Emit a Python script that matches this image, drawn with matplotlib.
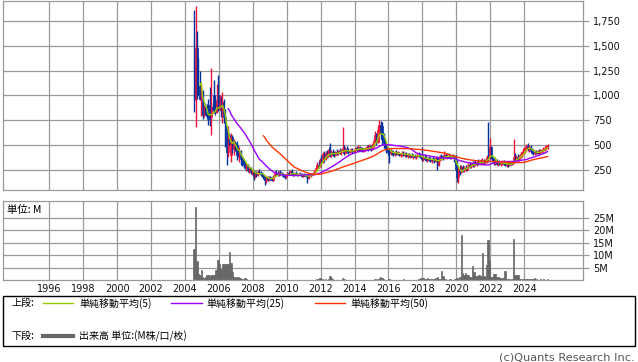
import numpy as np
import pandas as pd
import matplotlib
matplotlib.use("Agg")
import matplotlib.pyplot as plt
from matplotlib.lines import Line2D
from matplotlib.patches import Rectangle

# monthly candles, first one = July 2004
start = 2004 + 6 / 12

opens = [
    1300, 950, 1480, 1100, 1040, 960,
    1040, 800, 860, 830, 790, 900, 780, 880, 1000, 850, 830, 1000,
    860, 920, 850, 930, 780, 560, 430, 600, 400, 580, 460, 520,
    460, 450, 420, 440, 360, 320, 300, 290, 300, 250, 270, 230,
    240, 190, 220, 200, 230, 220, 210, 200, 180, 150, 170, 160,
    175, 165, 150, 190, 220, 215, 200, 225, 210, 205, 190, 175,
    200, 215, 205, 240, 210, 195, 220, 205, 195, 210, 200, 190,
    200, 195, 190, 170, 200, 195, 205, 220, 240, 270, 300, 290,
    350, 330, 410, 360, 420, 390, 480, 400, 430, 410, 400, 430,
    420, 440, 430, 440, 470, 420, 460, 440, 430, 445, 450, 440,
    450, 470, 450, 480, 455, 470, 445, 455, 470, 480, 460, 490,
    460, 500, 540, 600, 530, 650, 700, 690, 560, 520, 480, 450,
    430, 420, 440, 420, 410, 430, 415, 420, 400, 410, 425, 400,
    410, 395, 410, 390, 400, 385, 400, 380, 395, 405, 390, 380,
    360, 380, 365, 350, 370, 355, 345, 360, 350, 340, 370, 300,
    350, 390, 380, 370, 400, 380, 395, 385, 375, 390, 380, 350,
    260, 180, 250, 230, 280, 250, 270, 260, 280, 300, 290, 310,
    300, 320, 310, 330, 320, 340, 320, 340, 330, 340, 400, 370,
    480, 380, 350, 320, 340, 310, 330, 310, 320, 330, 310, 300,
    305, 300, 320, 310, 330, 380, 350, 380, 360, 390, 410, 430,
    450, 470, 490, 460, 480, 440, 430, 420, 430, 420, 440, 430,
    440, 450, 460, 470, 490,
]
highs = [
    1860, 1900, 1650, 1380, 1250, 1130,
    1060, 900, 920, 910, 960, 1090, 1280, 920, 1160, 1000, 1120, 1210,
    1000, 990, 1040, 960, 860, 680, 690, 620, 620, 600, 560, 540,
    540, 500, 480, 450, 380, 350, 330, 320, 310, 290, 280, 260,
    250, 240, 240, 250, 260, 240, 230, 210, 200, 190, 190, 190,
    190, 180, 200, 240, 250, 240, 240, 245, 230, 220, 210, 210,
    230, 240, 250, 255, 225, 230, 240, 215, 220, 230, 215, 210,
    215, 210, 200, 210, 220, 215, 230, 250, 280, 330, 340, 370,
    400, 430, 440, 440, 450, 460, 520, 450, 460, 440, 440, 460,
    450, 470, 460, 680, 500, 480, 490, 470, 460, 470, 470, 460,
    480, 490, 500, 490, 480, 480, 470, 480, 500, 500, 510, 500,
    520, 560, 640, 620, 700, 750, 740, 730, 620, 560, 500, 480,
    470, 460, 450, 440, 440, 450, 440, 430, 420, 440, 440, 430,
    430, 420, 425, 410, 420, 410, 410, 400, 420, 430, 410, 480,
    400, 410, 390, 380, 390, 380, 370, 390, 370, 380, 390, 370,
    400, 410, 400, 440, 420, 410, 420, 400, 400, 410, 400, 400,
    350, 280, 300, 300, 300, 290, 300, 290, 320, 330, 320, 340,
    340, 350, 340, 360, 350, 360, 370, 360, 360, 400, 730, 570,
    490, 400, 370, 360, 360, 340, 350, 340, 350, 350, 340, 330,
    330, 340, 340, 340, 560, 420, 400, 410, 400, 430, 440, 470,
    490, 510, 520, 500, 500, 470, 460, 450, 450, 450, 460, 460,
    460, 480, 490, 500, 510,
]
lows = [
    830, 680, 960, 1000, 950, 790,
    760, 780, 800, 760, 700, 690, 600, 840, 820, 800, 820, 840,
    850, 780, 720, 720, 480, 300, 380, 500, 330, 420, 400, 440,
    350, 380, 330, 300, 290, 270, 260, 240, 230, 220, 210, 200,
    150, 170, 180, 190, 210, 190, 180, 160, 100, 120, 140, 140,
    150, 140, 140, 180, 200, 190, 190, 200, 190, 180, 160, 170,
    190, 200, 200, 200, 185, 190, 200, 185, 190, 195, 180, 180,
    185, 180, 120, 160, 185, 180, 195, 200, 230, 260, 270, 280,
    300, 320, 330, 350, 370, 380, 380, 380, 390, 380, 390, 400,
    400, 410, 400, 430, 400, 410, 420, 410, 420, 430, 420, 425,
    430, 440, 440, 440, 440, 430, 430, 440, 450, 440, 450, 440,
    450, 480, 520, 500, 520, 600, 560, 500, 470, 460, 420, 400,
    320, 400, 400, 390, 395, 400, 400, 390, 380, 395, 390, 385,
    380, 375, 380, 370, 380, 360, 370, 360, 380, 380, 370, 340,
    340, 350, 340, 330, 340, 330, 320, 340, 320, 330, 250, 290,
    340, 360, 350, 360, 370, 360, 370, 360, 360, 370, 330, 240,
    130, 120, 200, 220, 230, 230, 240, 240, 260, 270, 270, 280,
    280, 300, 290, 300, 300, 310, 300, 310, 310, 320, 330, 350,
    360, 330, 300, 300, 300, 290, 300, 290, 300, 300, 290, 280,
    285, 290, 300, 300, 320, 330, 330, 340, 340, 370, 380, 400,
    420, 440, 440, 430, 420, 410, 400, 400, 410, 400, 410, 410,
    420, 430, 440, 450, 460,
]
closes = [
    950, 1480, 1100, 1040, 960, 1040,
    800, 860, 830, 790, 760, 780, 880, 860, 850, 830, 950, 860,
    920, 850, 930, 780, 560, 430, 600, 520, 580, 460, 520, 460,
    400, 420, 440, 360, 320, 300, 290, 300, 250, 270, 230, 240,
    190, 220, 200, 230, 220, 210, 200, 180, 150, 170, 160, 175,
    165, 150, 190, 220, 215, 200, 225, 210, 205, 190, 175, 200,
    215, 205, 240, 210, 195, 220, 205, 195, 210, 200, 190, 200,
    195, 190, 170, 200, 195, 205, 220, 240, 270, 300, 290, 350,
    330, 410, 360, 420, 390, 440, 400, 430, 410, 400, 430, 420,
    440, 430, 440, 470, 420, 460, 440, 430, 445, 450, 440, 450,
    470, 450, 480, 455, 470, 445, 455, 470, 480, 460, 490, 460,
    500, 540, 600, 530, 650, 700, 610, 560, 520, 480, 450, 430,
    420, 440, 420, 410, 430, 415, 420, 400, 410, 425, 400, 410,
    395, 410, 390, 400, 385, 400, 380, 395, 405, 390, 380, 360,
    380, 365, 350, 370, 355, 345, 360, 350, 340, 370, 300, 350,
    390, 380, 370, 400, 380, 395, 385, 375, 390, 380, 350, 260,
    180, 250, 230, 280, 250, 270, 260, 280, 300, 290, 310, 300,
    320, 310, 330, 320, 340, 320, 340, 330, 340, 380, 370, 480,
    380, 350, 320, 340, 310, 330, 310, 320, 330, 310, 300, 310,
    300, 320, 310, 330, 380, 350, 380, 360, 390, 410, 430, 450,
    470, 490, 460, 480, 440, 430, 420, 430, 420, 440, 430, 440,
    450, 460, 470, 490, 500,
]
# volume in millions
volume = [
    12.5, 29.3, 7.7, 2.5, 2.0, 4.0,
    1.5, 0.8, 1.5, 2.2, 2.2, 1.2, 2.2, 2.0, 2.0, 4.2, 4.2, 8.1,
    6.5, 4.5, 6.5, 6.5, 6.5, 6.5, 6.5, 11.2, 7.0, 3.5, 1.3, 1.3,
    1.0, 1.5, 1.0, 0.8, 0.5, 0.5, 0.8, 0.4, 0.3, 0.3, 0.2, 0.2,
    0.2, 0.1, 0.2, 0.1, 0.1, 0.2, 0.1, 0.1, 0.2, 0.2, 0.1, 0.1,
    0.1, 0.1, 0.2, 0.2, 0.1, 0.1, 0.2, 0.1, 0.1, 0.1, 0.2, 0.1,
    0.1, 0.1, 0.2, 0.1, 0.1, 0.1, 0.1, 0.1, 0.1, 0.1, 0.1, 0.1,
    0.1, 0.1, 0.3, 0.2, 0.1, 0.1, 0.2, 0.2, 0.3, 0.4, 0.5, 0.8,
    0.5, 0.4, 0.3, 0.5, 0.3, 0.6, 1.7, 0.8, 0.4, 0.3, 0.3, 0.2,
    0.2, 0.3, 0.3, 1.0, 0.7, 0.3, 0.2, 0.2, 0.1, 0.2, 0.1, 0.1,
    0.2, 0.1, 0.2, 0.1, 0.1, 0.1, 0.1, 0.2, 0.2, 0.1, 0.2, 0.1,
    0.2, 0.3, 0.5, 0.3, 0.6, 1.0, 1.5, 0.8, 0.5, 0.3, 0.2, 0.2,
    0.4, 0.2, 0.2, 0.1, 0.1, 0.1, 0.1, 0.1, 0.2, 0.2, 0.5, 0.2,
    0.1, 0.1, 0.2, 0.1, 0.1, 0.2, 0.1, 0.1, 0.2, 0.6, 0.8, 1.0,
    1.0, 0.5, 0.4, 0.8, 0.5, 0.4, 0.5, 0.5, 0.4, 0.8, 1.5, 0.6,
    0.5, 3.7, 1.8, 0.5, 0.4, 0.3, 0.3, 0.4, 0.3, 0.3, 0.4, 0.5,
    0.8, 0.5, 1.5, 18.1, 3.0, 2.0, 2.9, 2.3, 2.3, 1.5, 1.5, 5.8,
    3.5, 1.6, 1.6, 2.2, 2.2, 1.8, 10.9, 1.8, 1.2, 6.2, 16.1, 7.8,
    1.5, 1.5, 2.7, 2.7, 1.5, 1.5, 1.0, 1.0, 1.0, 1.0, 3.7, 0.5,
    0.5, 0.5, 0.3, 0.5, 16.7, 2.2, 2.2, 2.2, 0.5, 0.5, 0.4, 0.4,
    0.5, 0.4, 0.5, 0.4, 0.4, 0.5, 0.6, 1.0, 0.5, 0.3, 0.3, 0.4,
    0.3, 0.4, 0.3, 0.3, 0.4,
]

year_ticks = list(range(1996, 2025, 2))
price_ticks = [250, 500, 750, 1000, 1250, 1500, 1750]
price_labels = ["250", "500", "750", "1,000", "1,250", "1,500", "1,750"]
vol_ticks = [5, 10, 15, 20, 25]
vol_labels = ["5M", "10M", "15M", "20M", "25M"]

W, H = 638, 362
GRID = "#999999"
UP, DOWN = "#f0143c", "#0033a0"
MA_COLORS = {5: "#99cc00", 25: "#9900ff", 50: "#ff3300"}
VOL_COLOR = "#666666"
JP = ["Noto Sans CJK JP", "DejaVu Sans"]

o = np.array(opens, float)
h = np.array(highs, float)
l = np.array(lows, float)
c = np.array(closes, float)
v = np.array(volume, float)
x = start + (np.arange(len(c)) + 0.5) / 12
colors = np.where(c >= o, UP, DOWN)


def fx(px):
    return px / W


def fy(py):
    return 1 - py / H


fig = plt.figure(figsize=(W / 100, H / 100), dpi=100)
ax1 = fig.add_axes([fx(3.3), fy(190.3), (582.7 - 3.3) / W, 189.8 / H])
ax2 = fig.add_axes([fx(3.3), fy(280.3), (582.7 - 3.3) / W, 79.3 / H])

xlim = (1993.29, 2027.45)
for ax in (ax1, ax2):
    ax.set_xlim(*xlim)
    ax.set_axisbelow(True)
    ax.grid(True, color=GRID, lw=0.9)
    for s in ax.spines.values():
        s.set_color(GRID)
        s.set_linewidth(0.9)
    ax.set_xticks(year_ticks)
    ax.yaxis.tick_right()
    ax.tick_params(axis="y", length=4, width=0.9, color=GRID, pad=3.5,
                   labelsize=7, labelcolor="#111111")
    ax.tick_params(axis="x", length=0)

# price panel
ax1.vlines(x, l, h, colors=colors, lw=1.0)
ax1.bar(x, np.abs(c - o), bottom=np.minimum(o, c), width=0.9 / 12,
        color=colors, edgecolor=colors, lw=0.5)
for n, col in MA_COLORS.items():
    ma = pd.Series(c).rolling(n).mean()
    ax1.plot(x, ma, color=col, lw=1.0)
ax1.set_ylim(45.6, 1956)
ax1.set_yticks(price_ticks)
ax1.set_yticklabels(price_labels)
ax1.set_xticklabels([])

# volume panel
ax2.bar(x, v, width=1 / 12, color=VOL_COLOR, lw=0.5, edgecolor=VOL_COLOR)
ax2.set_ylim(0, 31.7)
ax2.set_yticks(vol_ticks)
ax2.set_yticklabels(vol_labels)
ax2.set_xticklabels([str(y) for y in year_ticks])
ax2.tick_params(axis="x", labelsize=7, pad=3, labelcolor="#111111")
ax2.text(fx(7.3), fy(209.5), "単位: M", transform=fig.transFigure,
         family=JP, fontsize=7.5, va="center", ha="left")

# legend box
fig.patches.append(Rectangle((fx(3.3), fy(346)), (635 - 3.3) / W, 50 / H,
                             transform=fig.transFigure, fill=False,
                             ec="black", lw=1))
row1, row2 = 303.3, 336
fs = 7.2
fig.text(fx(11), fy(row1), "上段:", family=JP, fontsize=fs, va="center")
fig.text(fx(11), fy(row2), "下段:", family=JP, fontsize=fs, va="center")
for (x0, x1, tx), n in zip([(43.3, 73.3, 79), (171, 201.7, 206.7), (315, 345, 350)],
                           [5, 25, 50]):
    fig.add_artist(Line2D([fx(x0), fx(x1)], [fy(row1), fy(row1)],
                          transform=fig.transFigure, color=MA_COLORS[n], lw=1))
    fig.text(fx(tx), fy(row1), f"単純移動平均({n})", family=JP,
             fontsize=fs, va="center")
fig.add_artist(Line2D([fx(43.3), fx(73.3)], [fy(row2), fy(row2)],
                      transform=fig.transFigure, color=VOL_COLOR, lw=3))
fig.text(fx(79), fy(row2), "出来高 単位:(M株/口/枚)", family=JP,
         fontsize=fs, va="center")

fig.text(fx(635), fy(357), "(c)Quants Research Inc.", fontsize=8.2,
         color="#555555", ha="right", va="center")

fig.savefig("out.png", dpi=100)
